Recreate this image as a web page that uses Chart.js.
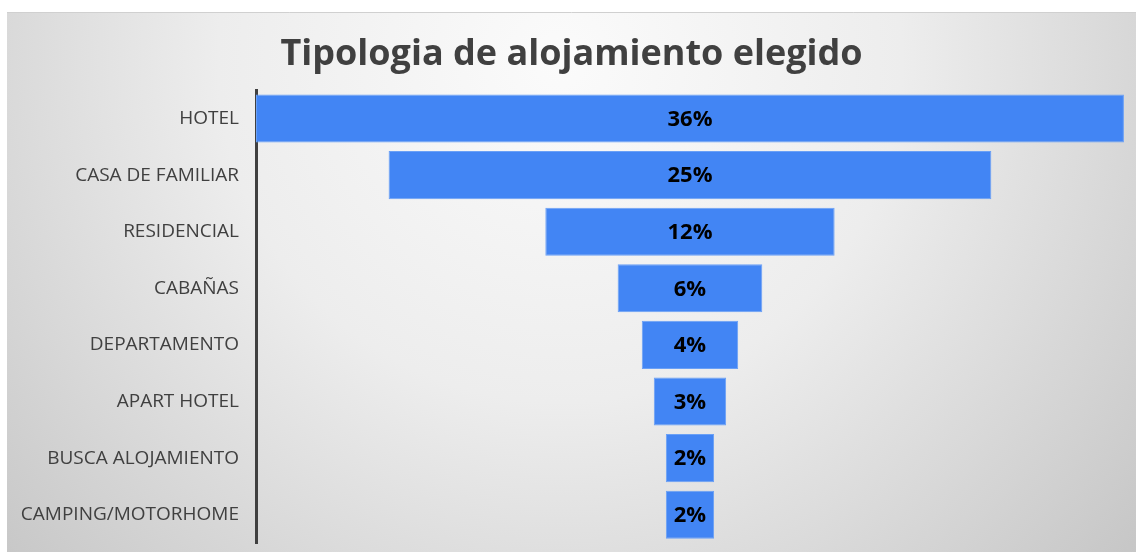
<!DOCTYPE html>
<html>
<head>
<meta charset="utf-8">
<script src="https://cdn.jsdelivr.net/npm/chart.js@4"></script>
<style>
  html, body { margin: 0; padding: 0; background: #ffffff; }
  #wrap { width: 1136px; height: 552px; position: relative; }
</style>
</head>
<body>
<div id="wrap"><canvas id="funnel"></canvas></div>
<script>
// Datos del embudo (porcentajes)
const categories = ["HOTEL", "CASA DE FAMILIAR", "RESIDENCIAL", "CABAÑAS", "DEPARTAMENTO", "APART HOTEL", "BUSCA ALOJAMIENTO", "CAMPING/MOTORHOME"];
const percents = [36, 25, 12, 6, 4, 3, 2, 2];
const chartTitle = "Tipologia de alojamiento elegido";

// barras flotantes centradas en 0 -> forma de embudo
const floating = percents.map(v => [-v / 2, v / 2]);

/**
 * Fondo gris con degradado radial (estilo Excel)
 */
const backgroundPlugin = {
  id: "bgGradient",
  beforeDraw(chart) {
    const ctx = chart.ctx;
    const w = chart.width, h = chart.height;
    ctx.save();
    ctx.fillStyle = "#ffffff";
    ctx.fillRect(0, 0, w, h);
    const g = ctx.createRadialGradient(560, 60, 0, 560, 60, 760);
    g.addColorStop(0, "#fbfbfb");
    g.addColorStop(0.45, "#ededed");
    g.addColorStop(1, "#c6c6c6");
    ctx.fillStyle = g;
    ctx.fillRect(7, 12, w - 7, h - 12);
    ctx.strokeStyle = "#d0d0d0";
    ctx.lineWidth = 1;
    ctx.beginPath();
    ctx.moveTo(7, 12.5);
    ctx.lineTo(w, 12.5);
    ctx.stroke();
    ctx.restore();
  }
};

/**
 * Etiquetas de porcentaje dentro de cada barra
 */
const valueLabels = {
  id: "valueLabels",
  afterDatasetsDraw(chart) {
    const ctx = chart.ctx;
    const meta = chart.getDatasetMeta(0);
    ctx.save();
    ctx.font = "bold 22px 'Open Sans'";
    ctx.fillStyle = "#000000";
    ctx.textAlign = "center";
    ctx.textBaseline = "middle";
    meta.data.forEach((bar, i) => {
      const cx = (bar.x + bar.base) / 2;
      ctx.fillText(percents[i] + "%", cx, bar.y + 1);
    });
    ctx.restore();
  }
};

new Chart(document.getElementById("funnel"), {
  type: "bar",
  data: {
    labels: categories,
    datasets: [{
      data: floating,
      backgroundColor: "#4285f4",
      borderColor: "#6aa0f6",
      borderWidth: 1,
      borderSkipped: false,
      categoryPercentage: 1,
      barPercentage: 0.85
    }]
  },
  options: {
    indexAxis: "y",
    responsive: true,
    maintainAspectRatio: false,
    animation: false,
    layout: { padding: { left: 7, right: 0, top: 14, bottom: 9 } },
    scales: {
      x: {
        display: false,
        min: -18,
        max: 18.5
      },
      y: {
        grid: { display: false, drawTicks: false },
        border: { display: true, color: "#404040", width: 3 },
        ticks: {
          color: "#404040",
          padding: 17,
          font: { family: "'Open Sans'", size: 19 }
        },
        afterFit(scale) {
          scale.width = 249;
          // sin relleno extra arriba/abajo
          scale.paddingTop = 0;
          scale.paddingBottom = 0;
        }
      }
    },
    plugins: {
      legend: { display: false },
      tooltip: { enabled: false },
      title: {
        display: true,
        text: chartTitle,
        color: "#404040",
        font: { family: "'Open Sans'", size: 36, weight: "bold" },
        padding: { top: 19, bottom: 14 }
      }
    }
  },
  plugins: [backgroundPlugin, valueLabels]
});
</script>
</body>
</html>
